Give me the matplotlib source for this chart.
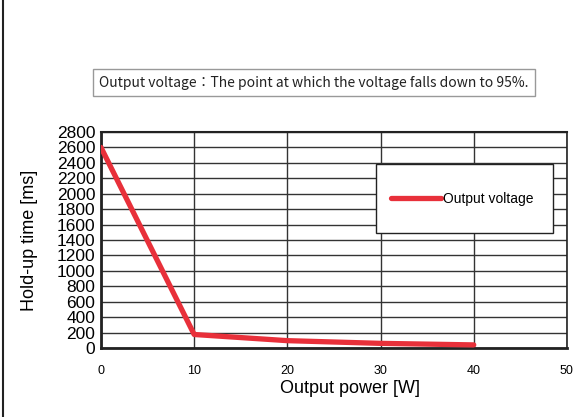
import matplotlib
matplotlib.use("Agg")
import matplotlib.pyplot as plt
from matplotlib.patches import Rectangle
import numpy as np

# data
power = [0, 10, 20, 30, 40]
holdup = [2600, 175, 95, 60, 40]
series_name = "Output voltage"
note = "Output voltage：The point at which the voltage falls down to 95%."

fig = plt.figure(figsize=(5.81, 4.17), dpi=100)
ax = fig.add_axes([0.1738, 0.1655, 0.802, 0.518])

ax.plot(power, holdup, color="#e8303a", linewidth=3.8, solid_capstyle="round",
        label=series_name, zorder=3)

ax.set_xlim(0, 50)
ax.set_ylim(0, 2800)
ax.set_xticks(np.arange(0, 51, 10))
ax.set_yticks(np.arange(0, 2801, 200))
ax.grid(True, color="#333333", linewidth=1.0)
ax.tick_params(axis="both", length=0)
ax.tick_params(axis="y", labelsize=12.5, pad=4)
ax.tick_params(axis="x", labelsize=9, pad=12)
for lab in ax.get_yticklabels() + ax.get_xticklabels():
    lab.set_fontfamily("Liberation Sans")
for s in ax.spines.values():
    s.set_color("#222222")
ax.spines["left"].set_linewidth(2)
ax.spines["bottom"].set_linewidth(2)
ax.spines["top"].set_linewidth(1.5)
ax.spines["right"].set_linewidth(1.2)

ax.set_xlabel("Output power [W]", fontsize=13, family="Liberation Sans")
ax.set_ylabel("Hold-up time [ms]", fontsize=13, family="Liberation Sans")
ax.xaxis.set_label_coords(0.534, -0.148)
ax.yaxis.set_label_coords(-0.135, 0.5)

# legend box
ax.add_patch(Rectangle((0.59, 0.532), 0.38, 0.32, transform=ax.transAxes,
                       fc="white", ec="#222222", lw=1.0, zorder=4))
leg = ax.legend(loc="center", bbox_to_anchor=(0.775, 0.692), frameon=False,
                prop={"family": "Liberation Sans", "size": 10},
                handlelength=3.6, handletextpad=0.1, borderaxespad=0)
leg.set_zorder(5)

fig.text(0.540, 0.802, note, ha="center", va="center", fontsize=10,
         family=["Noto Sans CJK JP", "DejaVu Sans"], color="#222222",
         bbox=dict(boxstyle="square,pad=0.45", fc="white", ec="#999999", lw=1.0))

# left frame line of the figure
fig.add_artist(plt.Line2D([0.005, 0.005], [0, 1], color="#222222", lw=1.5,
                          transform=fig.transFigure))

fig.savefig("out.png", dpi=100)
